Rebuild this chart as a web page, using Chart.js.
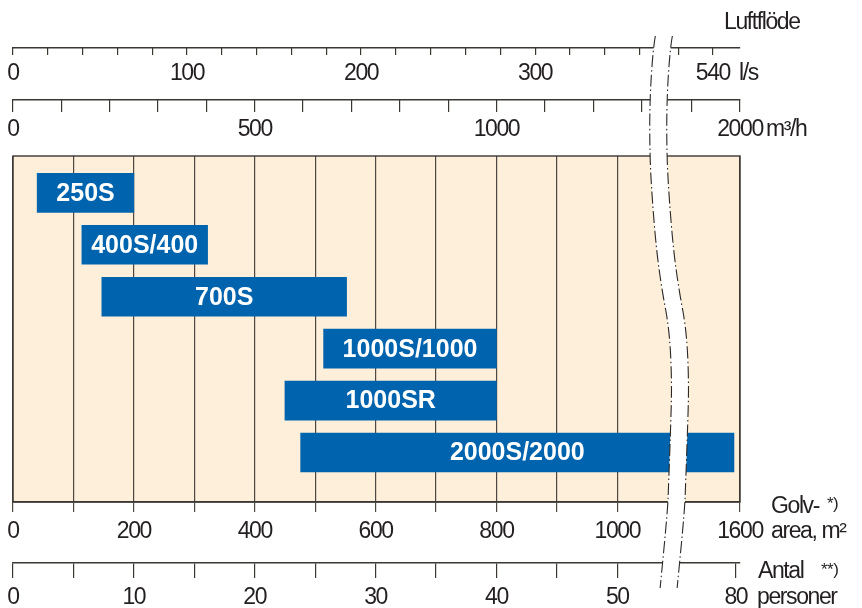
<!DOCTYPE html>
<html>
<head>
<meta charset="utf-8">
<script src="https://cdn.jsdelivr.net/npm/chart.js@4.4.1/dist/chart.umd.min.js"></script>
<style>
html,body{margin:0;padding:0;background:#fff;}
#wrap{width:862px;height:608px;position:relative;}
</style>
</head>
<body>
<div id="wrap"><canvas id="chart"></canvas></div>
<script>
// units (aggregat) and the floor area range each one covers, m2
const models=['250S','400S/400','700S','1000S/1000','1000SR','2000S/2000'];
const rows=[1,2,3,4,5,6];
const areaFrom=[40,114,147,514,450,476];
const areaTo=[200,322,552,800,800,1590];

// tick marks and labelled ticks of the four scales
const areaTicks=[0,100,200,300,400,500,600,700,800,900,1000,1600];
const areaLabels=[0,200,400,600,800,1000,1600];
const flowTicks=[0,100,200,300,400,500,600,700,800,900,1000,1100,1200,1300,1900,2000];
const flowLabels=[0,500,1000,2000];
const lsTicks=[0,20,40,60,80,100,120,140,160,180,200,220,240,260,280,300,320,340,360,520,540];
const lsLabels=[0,100,200,300,540];
const persTicks=[0,5,10,15,20,25,30,35,40,45,50,80];
const persLabels=[0,10,20,30,40,50,80];

// the axis break: values above "from" are shifted left by "cut"
const AREA_MAX=1600;
const AREA_CUT=397;
const M3H_PER_M2=1.25;
const M2_PER_PERSON=20;
const breaks={
    area:{from:1100, cut:AREA_CUT},
    flow:{from:1100*M3H_PER_M2, cut:AREA_CUT*M3H_PER_M2},
    ls:{from:1100*M3H_PER_M2/3.6, cut:AREA_CUT*M3H_PER_M2/3.6},
    pers:{from:55, cut:20.2}
};
const eff=(b,v)=>v>b.from ? v-b.cut : v;
const effMax=AREA_MAX-AREA_CUT;

const TAN='#fdefd9';
const BLUE='#0063ad';
const INK='#231f20';
const LINE='#3b3733';
const SANS="'Liberation Sans',Arial,sans-serif";
const FS=23;
const SQUEEZE='-1.4px';

function axis(pos, weight, max, ticks, labels, b, tick, pad, height){
    const top=pos==='top';
    return {
        type:'linear', axis:'x', position:pos, weight:weight,
        min:0, max:max,
        afterBuildTicks:s=>{ s.ticks=ticks.map(v=>({value:eff(b,v)})); },
        afterFit:s=>{ s.height=height; s.paddingLeft=0; s.paddingRight=0; },
        border:{display:true, color:LINE, width:1.4},
        grid:{drawOnChartArea:false, color:LINE, lineWidth:1.2, tickLength: top ? -tick : tick},
        ticks:{
            autoSkip:false, maxRotation:0, mirror:top, padding:pad, color:INK,
            font:{family:SANS, size:FS, lineHeight:1},
            callback:(v,i)=>labels.includes(ticks[i]) ? String(ticks[i]) : ''
        }
    };
}

const paper={
    id:'paper',
    beforeDraw(chart){
        const {ctx, chartArea:a}=chart;
        ctx.letterSpacing=SQUEEZE;
        ctx.save();
        ctx.fillStyle=TAN;
        ctx.fillRect(a.left, a.top, a.right-a.left, a.bottom-a.top);
        ctx.restore();
    },
    beforeDatasetsDraw(chart){
        const {ctx, chartArea:a}=chart;
        ctx.save();
        ctx.strokeStyle=LINE;
        ctx.lineWidth=1.4;
        ctx.strokeRect(a.left, a.top, a.right-a.left, a.bottom-a.top);
        ctx.restore();
    },
    afterDatasetsDraw(chart){
        const ctx=chart.ctx;
        ctx.save();
        ctx.letterSpacing='0px';
        ctx.fillStyle='#fff';
        ctx.font="bold 25px "+SANS;
        ctx.textAlign='center';
        ctx.textBaseline='middle';
        chart.getDatasetMeta(0).data.forEach((el,i)=>{
            ctx.fillText(models[i], (el.x+el.base)/2, el.y+1);
        });
        ctx.restore();
    }
};

// white wavy band that marks the broken scale, offsets from the band position
const BAND_AT=1075;
const bandShape=[[1.2,-120],[-1,-108],[-4.4,-56],[-4.4,-1],[-1.9,44],[2.3,94],[7.8,134],
    [15.3,174],[17.8,227],[16.3,277],[14.5,327],[13.5,354],[6,432]];

function trace(ctx, pts){
    ctx.beginPath();
    ctx.moveTo(pts[0][0], pts[0][1]);
    for(let i=1;i<pts.length-1;i++){
        const mx=(pts[i][0]+pts[i+1][0])/2, my=(pts[i][1]+pts[i+1][1])/2;
        ctx.quadraticCurveTo(pts[i][0], pts[i][1], mx, my);
    }
    const last=pts[pts.length-1];
    ctx.lineTo(last[0], last[1]);
}

const extras={
    id:'extras',
    afterDraw(chart){
        const {ctx, chartArea:a, scales}=chart;
        const R=a.right;
        const ls=scales.xLs, fl=scales.xFlow, ar=scales.x, pe=scales.xPers;
        const yLs=ls.bottom+ls.options.ticks.padding+FS/2;
        const yFl=fl.bottom+fl.options.ticks.padding+FS/2;
        const yAr=ar.top+ar.options.grid.tickLength+ar.options.ticks.padding+FS/2;
        const yPe=pe.top+pe.options.grid.tickLength+pe.options.ticks.padding+FS/2;
        ctx.save();
        ctx.letterSpacing=SQUEEZE;
        ctx.fillStyle=INK;
        ctx.textAlign='left';
        ctx.textBaseline='middle';
        ctx.font=FS+'px '+SANS;
        ctx.fillText('Luftflöde', R-16, ls.bottom-25);
        ctx.fillText('l/s', R-1, yLs);
        ctx.fillText('m³/h', R+26, yFl);
        ctx.fillText('Golv-', R+31, ar.top+5);
        ctx.fillText('area, m²', R+31, yAr);
        ctx.fillText('Antal', R+18, pe.top+9);
        ctx.fillText('personer', R+17, yPe);
        ctx.font='17px '+SANS;
        ctx.letterSpacing='-0.5px';
        ctx.fillText('*)', R+87, ar.top+2);
        ctx.fillText('**)', R+81, pe.top+7);

        // break band
        const bx=ar.getPixelForValue(BAND_AT);
        const pts=bandShape.map(p=>[bx+p[0], a.top+p[1]]);
        ctx.lineCap='butt';
        ctx.lineJoin='round';
        ctx.strokeStyle='#fff';
        ctx.lineWidth=17;
        trace(ctx, pts);
        ctx.stroke();
        ctx.strokeStyle='#2b2826';
        ctx.lineWidth=1.1;
        ctx.setLineDash([12,3,1.5,3]);
        [-8.5,8.5].forEach(d=>{
            trace(ctx, pts.map(p=>[p[0]+d, p[1]]));
            ctx.stroke();
        });
        ctx.restore();
    }
};

const ctx=document.getElementById('chart').getContext('2d');
new Chart(ctx,{
    type:'bar',
    data:{
        labels:models,
        datasets:[{
            data:rows.map((r,i)=>({y:r, x:[eff(breaks.area,areaFrom[i]), eff(breaks.area,areaTo[i])]})),
            backgroundColor:BLUE,
            borderWidth:0,
            barThickness:39
        }]
    },
    options:{
        indexAxis:'y',
        responsive:true,
        maintainAspectRatio:false,
        animation:false,
        layout:{padding:{left:13, right:122, top:0, bottom:0}},
        plugins:{legend:{display:false}, tooltip:{enabled:false}},
        scales:{
            y:{type:'linear', display:false, reverse:true, min:0.29, max:6.954, offset:false},
            x:Object.assign(axis('bottom',0,effMax,areaTicks,areaLabels,breaks.area,10,8.2,61),
                {grid:{drawOnChartArea:true, color:'#4e4843', lineWidth:1.2, tickLength:10}}),
            xPers:axis('bottom',1,effMax/M2_PER_PERSON,persTicks,persLabels,breaks.pers,15,8.3,45),
            xGap:{type:'linear', axis:'x', position:'top', weight:0, min:0, max:effMax,
                afterBuildTicks:s=>{ s.ticks=[]; }, afterFit:s=>{ s.height=56; s.paddingLeft=0; s.paddingRight=0; },
                border:{display:false}, grid:{display:false}, ticks:{display:false}},
            xFlow:axis('top',1,effMax*M3H_PER_M2,flowTicks,flowLabels,breaks.flow,12,18.5,52),
            xLs:axis('top',2,effMax*M3H_PER_M2/3.6,lsTicks,lsLabels,breaks.ls,7,13.8,48)
        }
    },
    plugins:[paper, extras]
});
</script>
</body>
</html>
